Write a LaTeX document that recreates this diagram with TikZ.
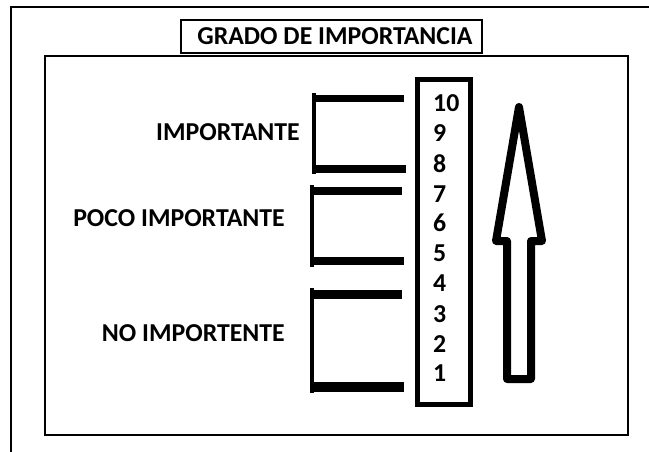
\documentclass[tikz,border=0pt]{standalone}
\usepackage{fontspec}
\setmainfont{Carlito}
\tikzset{
  lbl/.style={font=\fontsize{25.8}{30}\selectfont\bfseries, inner sep=0pt, text=black},
  num/.style={lbl, anchor=west},
  frame/.style={draw=black, line width=2pt},
  bracketv/.style={draw=black, line width=4pt},
  brackh/.style={draw=black, line width=#1},
  numbox/.style={draw=black, line width=5.5pt},
  bigarrow/.style={draw=black, line width=8pt, line join=round}
}
\begin{document}
\begin{tikzpicture}[x=1pt, y=-1pt]
\useasboundingbox (0,0) rectangle (649,452);
\fill[white] (0,0) rectangle (649,452);
% outer frame (cut off right and bottom)
\draw[frame] (10.5,452) -- (10.5,7.5) -- (649,7.5);
% inner box
\draw[frame] (44.7,55.7) rectangle (627.7,434.7);
% title
\node[frame, lbl, minimum width=301pt, minimum height=33pt, inner sep=0pt] (title) at (331.5,36.5) {\hspace*{7pt}GRADO DE IMPORTANCIA};
% labels
\node[lbl, anchor=east] (imp) at (300,132) {IMPORTANTE};
\node[lbl, anchor=east] (poco) at (285,218) {POCO IMPORTANTE};
\node[lbl, anchor=east] (noimp) at (285,333) {NO IMPORTENTE};
% number box
\draw[numbox] (417.5,79.5) rectangle (470.5,404.5);
\node[num] (n10) at (433,103) {10};
\node[num] (n9) at (433,133) {9};
\node[num] (n8) at (433,164) {8};
\node[num] (n7) at (433,194) {7};
\node[num] (n6) at (433,223) {6};
\node[num] (n5) at (433,253) {5};
\node[num] (n4) at (433,283) {4};
\node[num] (n3) at (433,314) {3};
\node[num] (n2) at (433,344) {2};
\node[num] (n1) at (433,373) {1};
% brackets
\draw[bracketv] (314,93) -- (314,174);
\draw[brackh=7pt] (312,99) -- (404,99);
\draw[brackh=8pt] (312,169) -- (406,169);
\draw[bracketv] (312,185) -- (312,267);
\draw[brackh=8pt] (310,191) -- (402,191);
\draw[brackh=8pt] (310,261) -- (404,261);
\draw[bracketv] (312,288) -- (312,393);
\draw[brackh=9pt] (310,294) -- (402,294);
\draw[brackh=10pt] (310,387) -- (404,387);
% big arrow
\draw[bigarrow] (519,107) -- (542,241) -- (531,241) -- (531,379) -- (507,379) -- (507,241) -- (496,241) -- cycle;
\end{tikzpicture}
\end{document}
